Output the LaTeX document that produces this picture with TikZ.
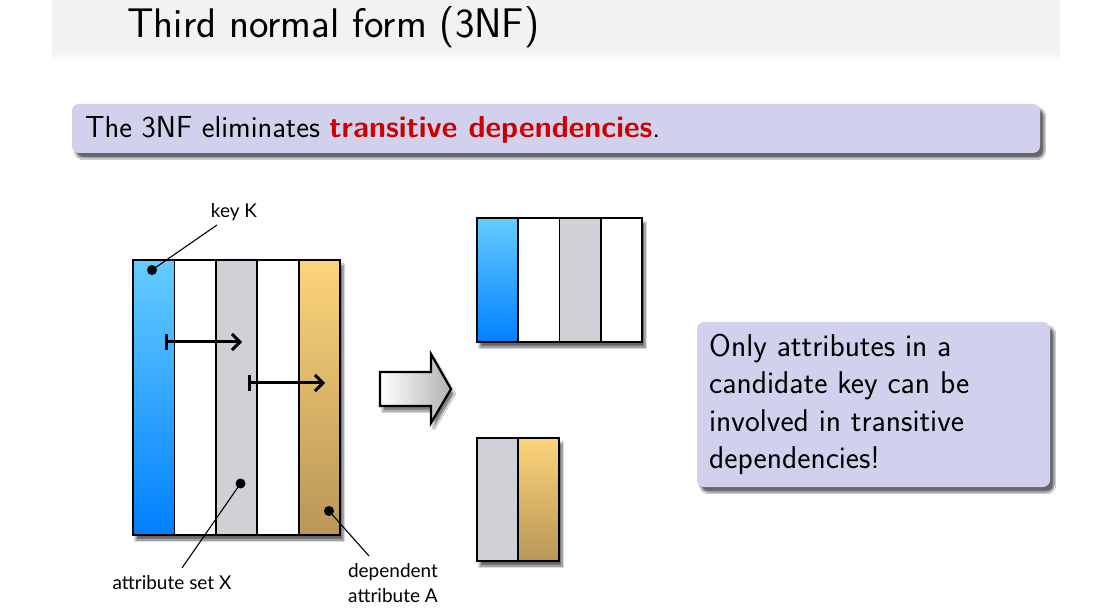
\documentclass[tikz,border=0pt]{standalone}
\usepackage{fontspec}
\newfontfamily\labelfont{Lato}
\usetikzlibrary{shadows.blur,arrows.meta}
\definecolor{titlebg}{RGB}{242,242,242}
\definecolor{blockbg}{RGB}{209,209,237}
\definecolor{alertred}{RGB}{204,0,0}
\definecolor{keytop}{RGB}{102,204,255}
\definecolor{keybot}{RGB}{0,128,255}
\definecolor{deptop}{RGB}{252,212,122}
\definecolor{depbot}{RGB}{184,150,88}
\definecolor{attrgray}{RGB}{207,209,214}
\tikzset{
  x=1pt, y=-1pt,
  infoblock/.style={fill=blockbg, rounded corners=7pt,
    blur shadow={shadow xshift=4pt, shadow yshift=-5pt, shadow blur steps=6, shadow opacity=60}},
  tableshadow/.style={fill=white,
    blur shadow={shadow xshift=3pt, shadow yshift=-5pt, shadow blur steps=8, shadow opacity=60}},
  keycol/.style={top color=keytop, bottom color=keybot},
  depcol/.style={top color=deptop, bottom color=depbot},
  attrcol/.style={fill=attrgray},
  grid/.style={draw=black, line width=1.8pt},
  fdarrow/.style={line width=3pt, {Bar[width=16pt,line width=3.2pt]}-{Straight Barb[length=8pt,width=16pt,line width=3pt]}},
  dotmark/.style={circle, fill=black, inner sep=0pt, minimum size=10pt},
  pointer/.style={line width=1.1pt},
  lbl/.style={font=\labelfont\fontsize{19}{25}\selectfont, inner sep=0pt, align=center},
}
\begin{document}
\begin{tikzpicture}
\useasboundingbox (0,0) rectangle (1112,612);
\fill[white] (0,0) rectangle (1112,612);

% frame title
\shade[top color=titlebg, bottom color=white] (52,52) rectangle (1060,60);
\fill[titlebg] (52,0) rectangle (1060,54);
\node[anchor=base west, inner sep=0pt, font=\sffamily\fontsize{41.4}{46}\selectfont] (title) at (127,38) {Third normal form (3NF)};

% top block
\path[infoblock] (72,104) rectangle (1040,153);
\node[anchor=base west, inner sep=0pt, font=\sffamily\fontsize{30.4}{36}\selectfont] (claim) at (85,138)
  {The 3NF eliminates \textcolor{alertred}{\bfseries transitive dependencies}.};

% original relation
\path[tableshadow] (133,260) rectangle (340,535);
\path[keycol] (133,260) rectangle (174.4,535);
\path[attrcol] (215.8,260) rectangle (257.2,535);
\path[depcol] (298.6,260) rectangle (340,535);
\draw[grid] (133,260) rectangle (340,535);
\foreach \cx in {174.4,215.8,257.2,298.6} \draw[grid] (\cx,260) -- (\cx,535);

\coordinate (fd1s) at (165,342);
\coordinate (fd1e) at (242,342);
\coordinate (fd2s) at (248,383);
\coordinate (fd2e) at (325,383);
\draw[fdarrow] (fd1s) -- (fd1e);
\draw[fdarrow] (fd2s) -- (fd2e);

% annotations
\node[dotmark] (dotK) at (152,270) {};
\node[dotmark] (dotX) at (240.5,483.5) {};
\node[dotmark] (dotA) at (329,511) {};
\node[lbl] (labK) at (234,212) {key K};
\node[lbl] (labX) at (172,583) {attribute set X};
\node[lbl] (labA) at (393,583) {dependent\\attribute A};
\coordinate (pK) at (217,225);
\coordinate (pX) at (182,568);
\coordinate (pA) at (369,556);
\draw[pointer] (pK) -- (dotK.center);
\draw[pointer] (pX) -- (dotX.center);
\draw[pointer] (pA) -- (dotA.center);

% decomposition arrow
\path[left color=white, right color=black!30, draw=black, line width=2.2pt, line join=miter,
  blur shadow={shadow xshift=3pt, shadow yshift=-5pt, shadow blur steps=6, shadow opacity=50}]
  (380,372) -- (431,372) -- (431,354) -- (451,389) -- (431,423) -- (431,406) -- (380,406) -- cycle;

% first decomposed relation
\path[tableshadow] (477,218) rectangle (642,342);
\path[keycol] (477,218) rectangle (518.25,342);
\path[attrcol] (559.5,218) rectangle (600.75,342);
\draw[grid] (477,218) rectangle (642,342);
\foreach \cx in {518.25,559.5,600.75} \draw[grid] (\cx,218) -- (\cx,342);

% second decomposed relation
\path[tableshadow] (477,438) rectangle (559,561);
\path[attrcol] (477,438) rectangle (518,561);
\path[depcol] (518,438) rectangle (559,561);
\draw[grid] (477,438) rectangle (559,561);
\draw[grid] (518,438) -- (518,561);

% side note
\path[infoblock] (697,322) rectangle (1050,487);
\node[anchor=north west, inner sep=0pt, align=left, font=\sffamily\fontsize{31.5}{37.3}\selectfont] (note) at (709,334)
  {Only attributes in a\\candidate key can be\\involved in transitive\\dependencies!};
\end{tikzpicture}
\end{document}
